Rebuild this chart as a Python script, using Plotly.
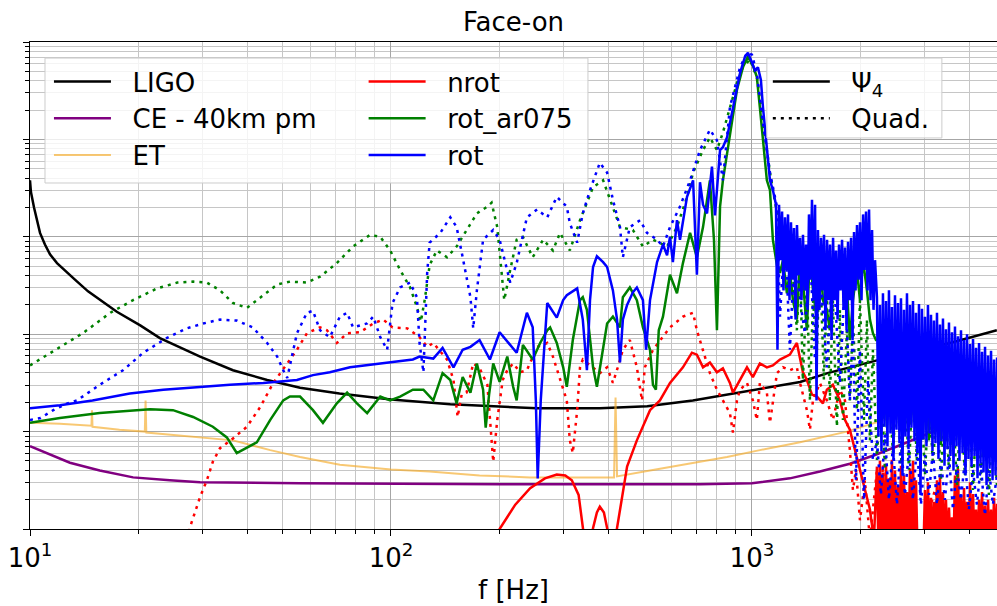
import numpy as np
import plotly.graph_objects as go

# ---------------------------------------------------------------------------
# Spectral amplitudes: frequency in Hz, amplitude stored as log10(strain)
# ---------------------------------------------------------------------------

# Detector sensitivity curves
ligo_f = [10.0, 10.06, 10.26, 10.45, 10.66, 11.0, 11.36, 11.88, 12.5, 13.32, 14.48, 15.63, 17.4, 20.2, 22.9,
          29.6, 36.5, 45.4, 56, 72, 100, 146, 254, 379, 513, 686, 850, 1000, 1360, 1620, 2110, 2560, 3540,
          4770]
ligo_log = [-21.42, -21.54, -21.70, -21.84, -21.96, -22.08, -22.18, -22.27, -22.35, -22.44, -22.56, -22.65,
            -22.77, -22.91, -23.04, -23.23, -23.37, -23.47, -23.55, -23.61, -23.67, -23.72, -23.76, -23.76,
            -23.74, -23.68, -23.62, -23.58, -23.49, -23.40, -23.29, -23.21, -23.09, -22.96]

ce_f = [10.0, 11.4, 12.9, 15.6, 19.3, 24.4, 29.6, 56, 200, 718, 1000, 1274, 1543, 1868, 2192, 2570, 3536, 4773]
ce_log = [-24.15, -24.24, -24.32, -24.40, -24.47, -24.50, -24.52, -24.53, -24.54, -24.54, -24.53,
          -24.48, -24.41, -24.33, -24.24, -24.14, -23.93, -23.73]

et_f = [10.0, 12.1, 14.8, 14.85, 14.9, 17.7, 20.8, 20.9, 21.0, 29.6, 36.5, 46.3, 56.0, 72.2, 100, 128,
        176, 243, 415, 419, 423, 522, 687, 853, 1052, 1359, 1833, 2570, 3536, 4773]
et_log = [-23.91, -23.92, -23.94, -23.78, -23.95, -23.98, -24.00, -23.68, -24.01, -24.06, -24.09,
          -24.19, -24.26, -24.34, -24.39, -24.41, -24.45, -24.47, -24.47, -23.65, -24.46, -24.40,
          -24.32, -24.26, -24.19, -24.11, -24.00, -23.83, -23.65, -23.47]

# frequency grid of the densely sampled high-frequency tail (2.2-4.8 kHz)
tail_f = [2220, 2241, 2263, 2285, 2307, 2329, 2352, 2374, 2397, 2420, 2443, 2467, 2491, 2515, 2539, 2563,
          2588, 2613, 2638, 2663, 2689, 2715, 2741, 2767, 2794, 2821, 2848, 2875, 2903, 2931, 2959, 2987,
          3016, 3045, 3074, 3104, 3134, 3164, 3194, 3225, 3256, 3287, 3319, 3351, 3383, 3416, 3448, 3482,
          3515, 3549, 3583, 3618, 3652, 3688, 3723, 3759, 3795, 3832, 3869, 3906, 3944, 3981, 4020, 4059,
          4098, 4137, 4177, 4217, 4258, 4299, 4340, 4382, 4424, 4467, 4510, 4553, 4597, 4641, 4686, 4731,
          4777, 4823]

# nrot model, Psi_4 extraction
nrot_psi4_f = [197, 200, 221, 243, 267, 288, 304, 317, 331, 340, 345, 356, 363, 372, 379, 389, 397, 402,
               415, 423, 436, 451, 480, 522, 556, 593, 644, 682, 704, 732, 765, 800, 831, 869, 886, 927,
               969, 1006, 1052, 1100, 1143, 1196, 1274, 1332, 1384, 1420, 1467, 1514, 1573, 1613, 1676,
               1753, 1810, 1868, 1930, 1992, 2056, 2123, 2178]
nrot_psi4_log = [-25.11, -25.00, -24.75, -24.58, -24.48, -24.44, -24.45, -24.50, -24.65, -25.00, -25.16,
                 -25.16, -24.99, -24.83, -24.77, -24.83, -24.99, -25.16, -25.16, -24.99, -24.70, -24.36,
                 -24.09, -23.78, -23.68, -23.50, -23.34, -23.19, -23.21, -23.34, -23.29, -23.39, -23.35,
                 -23.50, -23.60, -23.47, -23.34, -23.44, -23.30, -23.34, -23.32, -23.26, -23.21, -23.09,
                 -23.39, -23.47, -23.62, -23.64, -23.71, -23.57, -23.52, -23.68, -23.88, -23.98, -24.19,
                 -24.39, -24.60, -24.80, -25.11]
nrot_psi4_tail_log = [-24.36, -25.2, -24.30, -25.2, -24.42, -25.2, -24.33, -25.2, -24.48, -25.2,
                      -24.29, -25.2, -24.40, -25.2, -24.55, -25.2, -24.35, -25.2, -24.45, -25.2,
                      -24.62, -25.2, -24.38, -25.2, -24.30, -25.2, -24.50, -25.2, -25.2, -25.2,
                      -25.2, -25.2, -24.60, -25.2, -24.52, -25.2, -24.68, -25.2, -24.72, -25.2,
                      -24.50, -25.2, -24.47, -25.2, -24.62, -25.2, -24.70, -25.2, -24.78, -25.2,
                      -24.88, -25.2, -24.45, -25.2, -24.38, -25.2, -24.66, -25.2, -24.58, -25.2,
                      -24.72, -25.2, -24.52, -25.2, -24.64, -25.2, -24.80, -25.2, -24.70, -25.2,
                      -24.62, -25.2, -24.76, -25.2, -24.70, -25.2, -24.80, -25.2, -24.68, -25.2,
                      -24.74, -25.2]

# nrot model, quadrupole formula
nrot_quad_f = [27.4, 27.7, 29.6, 30.9, 32.1, 33.6, 36.5, 39.9, 43.4, 47.2, 51.6, 54.9, 58.5, 63.6, 66.5,
               70.8, 75.6, 82.1, 89.3, 95.2, 101, 111, 120, 126, 131, 143, 149, 153, 157, 162, 169, 176,
               185, 192, 197, 204, 210, 218, 228, 238, 254, 271, 281, 294, 307, 313, 319, 328, 334, 340,
               363, 379, 397, 412, 425, 439, 459, 480, 496, 505, 532, 593, 644, 687, 704, 732, 765, 800,
               831, 869, 886, 909, 927, 969, 1006, 1032, 1052, 1100, 1122, 1173, 1219, 1274, 1332, 1359,
               1420, 1448, 1476, 1543, 1613, 1676, 1753, 1810, 1868, 1905, 1942, 1992, 2056, 2123, 2220,
               2263, 2307, 2352, 2397, 2443, 2506, 2570, 2740, 2921, 3214, 3536, 3891, 4282, 4773]
nrot_quad_log = [-25.11, -24.99, -24.67, -24.50, -24.31, -24.17, -24.07, -23.95, -23.75, -23.50, -23.30,
                 -23.16, -22.99, -22.93, -22.96, -23.09, -22.99, -22.98, -22.89, -22.85, -22.93, -22.94,
                 -23.03, -23.13, -23.09, -23.26, -23.47, -23.85, -23.62, -23.60, -23.30, -23.35, -23.52,
                 -24.31, -23.88, -23.47, -23.37, -23.30, -23.39, -23.37, -23.13, -23.09, -23.23, -23.47,
                 -23.68, -24.09, -24.22, -23.78, -23.34, -23.26, -23.34, -23.40, -23.34, -23.50, -23.34,
                 -23.16, -23.06, -23.34, -23.68, -23.34, -23.16, -22.93, -22.82, -22.78, -22.96, -23.16,
                 -23.40, -23.57, -23.68, -23.81, -24.01, -23.68, -23.57, -23.50, -23.68, -23.88, -23.50,
                 -23.60, -23.91, -23.40, -23.34, -23.37, -23.34, -23.50, -23.78, -23.98, -23.68, -23.50,
                 -23.68, -23.88, -23.57, -23.68, -24.19, -24.60, -24.39, -24.91, -24.50, -25.11, -24.39,
                 -24.91, -24.34, -24.98, -24.50, -25.11, -24.60, -25.16, -24.70, -25.16, -24.60, -25.16,
                 -24.70, -25.16, -24.75]

# rot_ar075 model, Psi_4 extraction
ar075_psi4_f = [10.0, 12.1, 15.6, 21.5, 24.9, 28.3, 32.1, 35.1, 37.4, 39.9, 42.5, 46.3, 50.3, 52.5, 56.0,
                60.8, 64.8, 70.8, 75.6, 80.5, 85.9, 93.4, 99.5, 106, 115, 123, 131, 139, 146, 152, 158,
                166, 173, 180, 183, 187, 192, 200, 210, 218, 223, 232, 247, 259, 271, 276, 288, 300, 307,
                319, 334, 340, 349, 363, 372, 397, 412, 431, 439, 459, 480, 499, 522, 532, 542, 552, 567,
                593, 620, 644, 674, 704, 732, 765, 785, 800, 816, 831, 869, 909, 944, 975, 1006, 1032,
                1052, 1073, 1100, 1122, 1143, 1173, 1196, 1219, 1250, 1274, 1299, 1332, 1359, 1384, 1420,
                1448, 1476, 1514, 1543, 1573, 1613, 1644, 1676, 1720, 1753, 1787, 1833, 1868, 1905, 1954,
                1992, 2030, 2083, 2123, 2164, 2206]
ar075_psi4_log = [-23.91, -23.86, -23.81, -23.77, -23.78, -23.85, -23.95, -24.06, -24.22, -24.16, -24.11,
                  -23.88, -23.68, -23.64, -23.64, -23.78, -23.91, -23.71, -23.60, -23.71, -23.81, -23.64,
                  -23.68, -23.64, -23.57, -23.57, -23.68, -23.40, -23.47, -23.71, -23.44, -23.60, -23.30,
                  -23.57, -23.96, -23.62, -23.30, -23.49, -23.23, -23.54, -23.68, -23.11, -23.26, -23.09,
                  -22.96, -22.93, -23.09, -23.34, -23.54, -23.06, -22.65, -22.62, -22.75, -23.34, -23.54,
                  -22.89, -22.82, -22.93, -22.62, -22.52, -22.65, -22.93, -23.16, -23.52, -23.57, -22.96,
                  -22.82, -22.39, -22.58, -22.27, -21.96, -22.21, -21.90, -21.42, -22.03, -22.96, -21.69,
                  -21.42, -20.93, -20.49, -20.26, -20.15, -20.24, -20.36, -20.67, -21.01, -21.42, -21.52,
                  -22.03, -22.29, -22.37, -22.24, -22.58, -22.34, -22.65, -22.85, -22.24, -22.44, -22.96,
                  -22.14, -22.55, -22.85, -22.10, -22.65, -22.75, -22.96, -22.34, -22.65, -22.21, -22.44,
                  -22.52, -23.06, -22.65, -22.34, -22.65, -22.24, -22.55, -22.85, -22.99, -23.06]
ar075_psi4_hf_f = [2234, 2278, 2321, 2366, 2412, 2459, 2506, 2554, 2603, 2654, 2705, 2757, 2811, 2865, 2921,
                   2977, 3035, 3093, 3153, 3214, 3276, 3339, 3404, 3469, 3536, 3605, 3675, 3745, 3818, 3891,
                   3967, 4043, 4121, 4201, 4282, 4365, 4449, 4535, 4623, 4712, 4803]
ar075_psi4_hf_log = [-23.06, -23.98, -23.16, -23.93, -23.11, -24.03, -23.21, -23.88, -23.16, -23.98, -23.26,
                     -23.93, -23.21, -24.03, -23.32, -23.98, -23.26, -24.09, -23.37, -24.03, -23.32, -24.14,
                     -23.42, -24.09, -23.37, -24.14, -23.47, -24.09, -23.42, -24.19, -23.52, -24.14, -23.47,
                     -24.19, -23.57, -24.24, -23.52, -24.19, -23.62, -24.24, -23.57]

# rot_ar075 model, quadrupole formula
ar075_quad_f = [10.0, 11.4, 14.0, 16.7, 19.3, 22.5, 25.6, 28.3, 30.9, 33.6, 36.5, 39.9, 44.3, 48.4, 52.5,
                58.5, 63.6, 70.8, 78.5, 87.6, 93.4, 99.5, 106, 113, 118, 121, 124, 128, 134, 143, 152, 162,
                173, 185, 190, 197, 202, 206, 214, 223, 232, 247, 264, 281, 294, 313, 334, 363, 387, 404,
                431, 468, 499, 532, 582, 620, 661, 687, 732, 765, 800, 831, 869, 909, 944, 987, 1032, 1073,
                1122, 1173, 1250, 1299, 1332, 1359, 1384, 1420, 1448, 1476, 1514, 1543, 1583, 1613, 1644,
                1676, 1720, 1753, 1787, 1833, 1868, 1905, 1954, 1992, 2044, 2083, 2123, 2164]
ar075_quad_log = [-23.32, -23.19, -22.99, -22.78, -22.65, -22.53, -22.47, -22.46, -22.47, -22.55, -22.68,
                  -22.73, -22.60, -22.49, -22.46, -22.47, -22.41, -22.27, -22.10, -21.98, -22.00, -22.14,
                  -22.34, -22.52, -22.72, -22.87, -22.65, -22.29, -22.14, -22.21, -22.10, -21.93, -21.76,
                  -21.69, -21.65, -21.90, -22.34, -22.65, -22.34, -22.03, -22.00, -22.21, -22.03, -22.14,
                  -21.96, -22.14, -21.83, -21.49, -21.42, -21.62, -21.90, -21.93, -22.10, -22.03, -22.10,
                  -21.90, -21.59, -21.34, -21.11, -20.98, -21.11, -20.93, -20.67, -20.42, -20.26, -20.18,
                  -20.36, -20.83, -21.34, -21.76, -22.10, -22.37, -22.96, -22.24, -23.47, -22.44, -23.68,
                  -22.65, -23.16, -22.24, -23.47, -22.55, -23.68, -22.65, -23.95, -22.75, -23.88, -22.96,
                  -23.68, -22.85, -23.78, -22.65, -23.88, -22.85, -24.09, -23.16]
ar075_quad_hf_f = [2220, 2277, 2336, 2397, 2459, 2522, 2587, 2654, 2723, 2793, 2865, 2939, 3015, 3093, 3173,
                   3255, 3339, 3425, 3514, 3605, 3698, 3793, 3891, 3992, 4095, 4201, 4309, 4421, 4535, 4652,
                   4773]
ar075_quad_hf_log = [-24.29, -23.37, -24.39, -23.42, -24.24, -23.47, -24.34, -23.52, -24.39, -23.47, -24.29,
                     -23.57, -24.45, -23.62, -24.34, -23.68, -24.50, -23.62, -24.39, -23.73, -24.55, -23.68,
                     -24.45, -23.78, -24.60, -23.73, -24.50, -23.83, -24.65, -23.78, -24.55]

# rot model, Psi_4 extraction
rot_psi4_f = [10.0, 12.1, 14.9, 18.9, 23.4, 29.6, 35.8, 44.3, 54.9, 60.8, 67.7, 77.0, 93.4, 115, 120, 131,
              139, 149, 158, 166, 176, 188, 200, 214, 223, 238, 247, 252, 255, 260, 271, 288, 300, 307,
              328, 340, 349, 356, 363, 372, 387, 397, 412, 423, 431, 439, 451, 468, 480, 499, 509, 522,
              546, 567, 582, 593, 604, 620, 632, 661, 687, 704, 718, 732, 751, 775, 790, 816, 831, 853,
              886, 927, 957, 975, 1000, 1019, 1039, 1059, 1073, 1100, 1122, 1143]
rot_psi4_log = [-23.76, -23.73, -23.68, -23.61, -23.57, -23.54, -23.52, -23.50, -23.47, -23.42, -23.39,
                -23.34, -23.30, -23.26, -23.23, -23.25, -23.14, -23.34, -23.16, -23.13, -23.06, -23.26,
                -22.98, -23.11, -23.19, -22.78, -22.93, -23.68, -24.48, -23.68, -22.68, -22.83, -22.65,
                -22.60, -22.53, -22.85, -23.37, -22.65, -22.31, -22.20, -22.26, -22.31, -22.55, -22.85,
                -23.29, -22.85, -22.70, -22.57, -22.52, -22.65, -23.16, -22.65, -22.26, -22.08, -22.19,
                -22.00, -22.26, -21.83, -22.03, -21.59, -21.42, -22.39, -21.44, -21.67, -21.76, -21.28,
                -21.78, -21.11, -21.08, -20.98, -20.67, -20.32, -20.15, -20.11, -20.21, -20.29, -20.26,
                -20.39, -20.67, -21.08, -21.42, -21.52]
rot_psi4_mid_f = [1166, 1177, 1189, 1200, 1212, 1223, 1235, 1247, 1259, 1271, 1283, 1296, 1308, 1321, 1333,
                  1346, 1359, 1372, 1385, 1399, 1412, 1426, 1439, 1453, 1467, 1481, 1496, 1510, 1524, 1539,
                  1554, 1569, 1584, 1599, 1615, 1630, 1646, 1662, 1678, 1694, 1710, 1727, 1743, 1760, 1777,
                  1794, 1811, 1829, 1846, 1864, 1882, 1900, 1918, 1937, 1955, 1974, 1993, 2012, 2032, 2051,
                  2071, 2091, 2111, 2131, 2152, 2172, 2193]
rot_psi4_mid_log = [-21.67, -23.16, -21.67, -22.24, -21.74, -22.55, -21.80, -22.34, -21.77, -22.65,
                    -21.85, -22.44, -21.91, -22.85, -21.88, -22.39, -22.01, -22.65, -21.98, -22.55,
                    -22.08, -22.75, -21.77, -22.44, -21.62, -22.65, -21.67, -23.68, -21.93, -22.75,
                    -22.01, -22.55, -21.98, -22.96, -22.03, -22.65, -22.08, -23.06, -22.01, -22.65,
                    -22.14, -22.85, -22.08, -22.55, -22.03, -22.75, -22.11, -22.96, -22.05, -22.65,
                    -22.01, -23.06, -21.95, -22.55, -21.88, -22.44, -21.85, -22.65, -21.77, -22.34,
                    -21.74, -22.55, -21.72, -22.65, -21.93, -22.75, -22.24]
rot_psi4_tail_log = [-22.62, -24.05, -22.70, -24.20, -22.58, -23.95, -22.66, -24.15, -22.55, -24.02,
                     -22.72, -24.30, -22.60, -23.98, -22.68, -24.12, -22.63, -24.45, -22.75, -24.05,
                     -22.58, -24.18, -22.70, -23.96, -22.66, -24.10, -22.78, -24.22, -22.69, -24.65,
                     -22.74, -24.08, -22.82, -24.15, -22.70, -24.02, -22.80, -24.20, -22.86, -24.12,
                     -22.78, -24.28, -22.90, -24.10, -22.84, -24.35, -22.95, -24.18, -22.88, -24.25,
                     -22.98, -24.40, -22.92, -24.15, -23.02, -24.30, -22.96, -24.22, -23.06, -24.45,
                     -23.00, -24.28, -23.10, -24.36, -23.05, -24.25, -23.14, -24.48, -23.09, -24.33,
                     -23.18, -24.42, -23.13, -24.55, -23.22, -24.38, -23.17, -24.50, -23.26, -24.45,
                     -23.24, -24.58]

# rot model, quadrupole formula
rot_quad_f = [10.0, 10.7, 11.6, 12.7, 13.5, 15.6, 18.1, 20.6, 23.9, 27.2, 30.2, 33.6, 37.4, 41.4, 45.4,
              48.4, 50.3, 51.6, 52.5, 54.9, 58.5, 60.8, 63.6, 67.7, 72.2, 75.6, 78.5, 85.9, 89.3, 93.4,
              97.6, 101, 106, 113, 118, 120, 123, 126, 128, 137, 146, 152, 158, 166, 169, 173, 180, 192,
              200, 210, 214, 223, 238, 254, 271, 288, 294, 307, 313, 328, 340, 356, 379, 397, 412, 431,
              439, 459, 490, 512, 546, 567, 593, 632, 674, 718, 765, 800, 831, 869, 927, 969, 1000, 1032,
              1073, 1122, 1173, 1196, 1235, 1274, 1316, 1359, 1402, 1448, 1495, 1543, 1613, 1676, 1753,
              1810, 1868, 1905, 1942, 1992, 2044, 2097, 2164]
rot_quad_log = [-23.88, -23.86, -23.78, -23.71, -23.68, -23.52, -23.37, -23.19, -23.04, -22.94, -22.89,
                -22.85, -22.86, -22.93, -23.09, -23.23, -23.37, -23.45, -23.32, -22.99, -22.78, -22.76,
                -22.96, -23.03, -22.82, -22.78, -22.93, -22.89, -22.82, -23.03, -23.16, -22.68, -22.52,
                -22.47, -22.62, -23.09, -23.39, -22.37, -22.06, -21.96, -21.80, -21.90, -22.21, -22.62,
                -22.94, -22.55, -22.03, -21.93, -22.03, -22.34, -22.47, -22.27, -21.80, -21.72, -21.80,
                -21.59, -21.62, -21.69, -21.86, -22.06, -21.76, -21.52, -21.24, -21.34, -21.62, -21.90,
                -22.21, -21.90, -21.83, -21.96, -22.03, -22.10, -21.90, -21.69, -21.42, -21.11, -20.90,
                -21.01, -21.42, -20.67, -20.26, -20.11, -20.13, -20.32, -20.83, -21.34, -21.69, -22.82,
                -21.93, -23.16, -22.03, -22.65, -22.99, -22.14, -23.26, -22.34, -23.34, -22.24, -23.50,
                -22.44, -23.68, -22.96, -24.50, -23.16, -24.70, -23.47, -24.29]
rot_quad_hf_f = [2220, 2277, 2336, 2397, 2459, 2522, 2587, 2654, 2723, 2793, 2865, 2939, 3015, 3093, 3173,
                 3255, 3339, 3425, 3514, 3605, 3698, 3793, 3891, 3992, 4095, 4201, 4309, 4421, 4535, 4652,
                 4773]
rot_quad_hf_log = [-24.09, -24.65, -24.03, -24.70, -24.14, -24.75, -24.09, -24.65, -24.19, -24.70, -24.14,
                   -24.75, -24.24, -24.65, -24.19, -24.75, -24.29, -24.70, -24.24, -24.80, -24.34, -24.70,
                   -24.29, -24.80, -24.39, -24.75, -24.34, -24.86, -24.39, -24.75, -24.45]

# Axis ticks
x_major = [10, 100, 1000]
x_major_text = ["10<sup>1</sup>", "10<sup>2</sup>", "10<sup>3</sup>"]
y_decades = list(range(-25, -19))

FONT = "DejaVu Sans"
DOT = "3px,5px"
RED, GREEN, BLUE = "#ff0000", "#008000", "#0000ff"


def amp(log_vals):
    return np.power(10.0, np.asarray(log_vals, dtype=float))


fig = go.Figure()


def add_curve(f, lg, name, color, width, dash="solid", legend="legend", showlegend=True):
    fig.add_trace(go.Scatter(
        x=np.asarray(f, dtype=float), y=amp(lg), mode="lines", name=name,
        line=dict(color=color, width=width, dash=dash),
        legend=legend, showlegend=showlegend, hoverinfo="skip"))


NB = "\u00a0\u00a0"
# detectors
add_curve(ligo_f, ligo_log, NB + "LIGO", "black", 2.5)
add_curve(ce_f, ce_log, NB + "CE - 40km pm", "#800080", 2.5)
add_curve(et_f, et_log, NB + "ET", "rgba(245,170,40,0.65)", 2)

# models: solid = Psi_4, dotted = quadrupole formula
add_curve(nrot_psi4_f + tail_f, nrot_psi4_log + nrot_psi4_tail_log, NB + "nrot", RED, 2.5, legend="legend2")
add_curve(nrot_quad_f, nrot_quad_log, "nrot quad", RED, 2.5, dash=DOT, showlegend=False)
add_curve(ar075_psi4_f + ar075_psi4_hf_f, ar075_psi4_log + ar075_psi4_hf_log, NB + "rot_ar075", GREEN, 2.5,
          legend="legend2")
add_curve(ar075_quad_f + ar075_quad_hf_f, ar075_quad_log + ar075_quad_hf_log, "rot_ar075 quad", GREEN, 2.5,
          dash=DOT, showlegend=False)
add_curve(rot_psi4_f + rot_psi4_mid_f + tail_f, rot_psi4_log + rot_psi4_mid_log + rot_psi4_tail_log,
          NB + "rot", BLUE, 2.5, legend="legend2")
add_curve(rot_quad_f + rot_quad_hf_f, rot_quad_log + rot_quad_hf_log, "rot quad", BLUE, 2.5, dash=DOT,
          showlegend=False)

# line-style key
fig.add_trace(go.Scatter(x=[None], y=[None], mode="lines", name=NB + "Ψ<sub>4</sub>",
                         line=dict(color="black", width=2.5), legend="legend3", hoverinfo="skip"))
fig.add_trace(go.Scatter(x=[None], y=[None], mode="lines", name=NB + "Quad.",
                         line=dict(color="black", width=2.5, dash=DOT), legend="legend3", hoverinfo="skip"))

legend_common = dict(
    xanchor="left", yanchor="top", bgcolor="rgba(0,0,0,0)", borderwidth=0,
    font=dict(family=FONT, size=26, color="black"), itemwidth=57, tracegroupgap=0,
    itemclick=False, itemdoubleclick=False,
)

box_style = dict(type="rect", xref="paper", yref="paper", layer="above",
                 fillcolor="rgba(255,255,255,0.8)", line=dict(color="#cccccc", width=1))

fig.update_layout(
    width=997, height=606,
    margin=dict(l=30, r=0, t=42, b=77),
    paper_bgcolor="white", plot_bgcolor="white",
    font=dict(family=FONT, size=26, color="black"),
    title=dict(text="Face-on", x=0.5, xref="paper", xanchor="center",
               y=1 - 22 / 606, yref="container", yanchor="middle", font=dict(size=26)),
    legend=dict(x=0.0196, y=0.967, **legend_common),
    legend2=dict(x=0.345, y=0.967, **legend_common),
    legend3=dict(x=0.763, y=0.967, **legend_common),
    shapes=[
        dict(x0=0.0155, x1=0.577, y0=0.7105, y1=0.967, **box_style),
        dict(x0=0.762, x1=0.943, y0=0.803, y1=0.967, **box_style),
    ],
)

fig.update_xaxes(
    type="log", range=[1, np.log10(4775)],
    tickmode="array", tickvals=x_major, ticktext=x_major_text,
    ticks="outside", ticklen=6, tickwidth=1.2, tickcolor="black",
    showline=True, linecolor="black", linewidth=1.2, mirror=True,
    showgrid=True, gridcolor="#a6a6a6", gridwidth=1.1, zeroline=False,
    minor=dict(tickmode="array",
               tickvals=[m * 10 ** k for k in range(1, 4) for m in range(2, 10) if m * 10 ** k < 4775],
               ticks="outside", ticklen=3.5, tickcolor="black", tickwidth=1,
               showgrid=True, gridcolor="#c6c6c6", gridwidth=1),
    tickfont=dict(family=FONT, size=26, color="black"),
    title=dict(text="f [Hz]", standoff=8, font=dict(family=FONT, size=26, color="black")),
)
fig.update_yaxes(
    type="log", range=[-25, -20],
    tickmode="array", tickvals=[10.0 ** k for k in y_decades], showticklabels=False,
    ticks="outside", ticklen=6, tickwidth=1.2, tickcolor="black",
    showline=True, linecolor="black", linewidth=1.2, mirror=True,
    showgrid=True, gridcolor="#a6a6a6", gridwidth=1.1, zeroline=False,
    minor=dict(tickmode="array",
               tickvals=[m * 10.0 ** k for k in y_decades[:-1] for m in range(2, 10)],
               ticks="outside", ticklen=3.5, tickcolor="black", tickwidth=1,
               showgrid=True, gridcolor="#c6c6c6", gridwidth=1),
)

fig.write_html("out.html")
